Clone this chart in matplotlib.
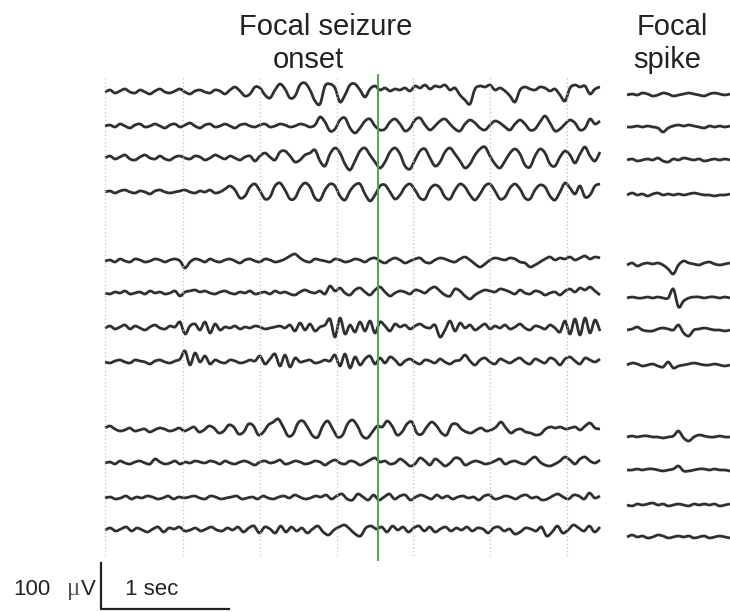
import numpy as np
import matplotlib.pyplot as plt
from matplotlib.path import Path
from matplotlib.patches import PathPatch

plt.rcParams['font.family'] = ['Liberation Sans', 'DejaVu Sans']

# EEG traces, amplitude in pixels (up = positive), one sample every ~5 px
left_traces = [
    # ch1
    [0,2,-1,1,3,0,-1,2,0,-2,1,3,0,-1,1,3,0,-2,1,2,0,-1,2,1,-2,
     2,5,1,-4,-2,5,4,-3,-6,2,8,3,-6,-4,7,9,2,-9,-12,6,8,4,-10,-3,7,8,2,-5,3,6,
     2,4,1,3,2,4,1,6,4,7,3,6,5,7,2,4,-3,-8,-12,3,6,5,7,2,4,1,-4,-10,2,5,
     3,2,5,4,1,3,-3,-9,4,7,5,6,-2,3,5],
    # ch2
    [0,1,-1,2,0,-2,1,2,-1,0,2,0,-2,1,2,-1,1,3,0,-2,1,2,-1,0,2,
     0,-2,1,2,0,-1,1,2,-1,0,2,1,-1,0,2,1,-1,1,
     9,4,-5,-3,6,8,-2,-7,-2,5,7,0,
     -4,-3,4,7,2,-5,-2,6,8,1,-4,0,5,7,2,-3,-5,2,6,3,-2,-4,1,5,3,-1,-4,2,6,2,
     -4,-3,4,10,3,-5,-3,2,6,3,-4,-2,7,2,5],
    # ch3
    [0,2,-1,1,3,-1,-2,1,3,0,-1,2,-1,-2,1,2,0,-1,2,1,-2,0,3,1,-1,2,0,-2,1,2,
     -3,2,5,1,-2,6,7,2,-4,-2,3,5,8,-3,-8,4,10,5,-6,-12,-3,7,10,3,-4,
     -10,-4,6,10,4,-8,-11,-2,7,9,0,-8,-4,6,10,4,-3,-10,-6,3,9,11,2,-6,-10,
     -3,5,9,4,-7,-9,2,9,5,-6,-8,1,7,3,-5,4,11,2,-3,6],
    # ch4
    [0,1,-1,1,2,0,-1,1,0,-2,1,2,0,-1,0,1,2,0,-1,1,0,2,-1,0,
     3,6,2,-6,-4,5,8,1,-7,-5,6,9,2,-7,-6,4,9,5,-6,-8,2,8,6,-4,-8,1,7,8,-2,-9,
     -3,6,7,0,-7,-3,5,8,2,-6,-7,3,7,4,-5,-7,2,8,5,-3,-8,-2,6,8,1,-7,-5,4,8,3,
     -6,-7,2,7,5,-4,-8,0,9,4,-2,6,-5,-3,6,8],
    # ch5
    [0,1,-1,2,0,-1,2,1,-1,0,2,1,-1,1,2,
     0,-7,-1,
     2,1,-1,2,0,-1,1,2,0,-2,1,2,0,-1,2,1,-1,0,
     2,5,7,3,0,
     -1,2,1,0,-1,2,1,-1,0,2,1,
     -1,2,3,0,-2,1,3,1,-2,0,2,3,-1,-2,1,3,2,0,-1,2,4,1,-3,-6,-3,1,3,2,1,3,
     2,-1,-2,-6,-4,-1,2,4,1,3,2,4,1,3,5,2,4,3],
    # ch6
    [0,-1,1,0,2,-1,0,1,-1,2,0,1,-1,0,2,-3,1,2,3,1,2,0,-1,1,2,0,-1,1,0,2,
     -1,0,1,-1,2,0,1,-1,-2,1,3,1,0,2,-1,
     7,2,5,0,-2,3,5,1,-2,3,6,1,-3,0,2,1,-1,3,2,0,4,6,2,-2,-3,4,2,-3,-6,-2,
     1,3,2,1,4,3,1,-1,3,0,-1,2,1,-2,0,1,-2,2,4,1,5,3,6,2,-2],
    # ch7
    [0,2,-1,1,3,-1,2,0,-2,1,3,0,-1,2,1,
     6,-6,2,4,-2,6,-5,4,-2,
     1,0,2,-1,1,0,2,1,-1,0,1,2,
     0,3,-3,5,-2,4,-3,1,3,
     9,-9,10,-6,3,-4,
     6,-3,7,-5,6,2,-3,4,1,
     3,-1,2,4,1,0,3,
     -9,-2,7,-3,5,
     0,3,-2,1,4,-1,2,0,3,-1,1,4,0,-2,2,1,-1,3,0,
     -4,7,-6,9,-7,10,-5,8,-3],
    # ch8
    [0,-1,1,2,0,-1,2,1,0,-2,1,2,0,-1,1,
     3,11,-3,9,0,6,-2,
     2,0,-1,2,1,-1,0,2,1,
     6,-2,3,8,-4,7,-5,4,0,
     1,2,-1,0,2,1,
     7,-4,8,-6,5,-3,
     3,6,-2,4,-1,5,2,-3,1,3,0,-2,2,1,-1,3,0,-2,1,2,7,1,-3,2,4,0,-2,3,1,-1,
     2,4,0,-2,3,1,-1,4,2,-3,3,5,1,-2,4,2,0,3],
    # ch9
    [2,4,1,-1,0,2,-1,0,1,-2,0,2,1,-1,0,
     2,-1,1,3,-2,0,4,2,-3,-1,5,3,-4,-2,6,4,-5,
     -2,5,8,11,3,-6,-4,7,9,2,-6,-7,4,9,1,-7,-5,6,10,4,-6,-8,-2,4,
     3,9,4,-5,-2,6,8,-3,-4,3,8,4,-3,-5,5,6,1,-2,-3,0,2,-1,0,3,8,2,-3,0,1,-2,
     -3,-5,-4,1,3,2,3,1,2,3,0,4,7,2,1],
    # ch10
    [0,1,-1,2,0,-1,1,2,0,-1,4,1,-1,0,2,-1,1,0,2,1,0,2,1,-1,2,0,-1,1,2,0,
     -2,1,2,0,1,3,-1,0,2,1,-1,0,2,1,-2,1,3,0,-1,2,1,-2,0,3,5,1,2,-1,0,4,
     1,-3,-1,5,2,-2,4,1,-3,0,5,4,-2,0,2,1,-1,0,2,4,-1,1,2,0,-1,3,6,1,-2,-3,
     -1,2,6,3,-1,4,6,2,0,3],
    # ch11
    [0,1,-1,0,2,-1,1,0,2,1,-1,0,2,-1,1,0,1,2,0,-1,2,1,-1,0,1,2,-1,0,1,-1,
     2,0,-1,1,2,0,3,1,-1,0,2,1,3,-1,2,4,-1,-2,4,1,-2,3,-2,1,4,-1,2,3,-2,1,
     3,1,-1,3,0,2,-1,1,2,0,1,-2,2,3,-1,0,2,1,-1,2,3,0,1,-2,-1,2,4,1,-1,3,
     2,-1,5,0,2],
    # ch12
    [0,2,-1,1,3,-1,2,0,-2,1,3,-2,2,1,3,-1,0,2,-1,1,3,0,-1,2,0,3,-2,2,4,-3,
     3,1,-3,4,-2,3,-1,2,-3,1,4,-2,-5,0,3,5,1,-4,-6,2,4,1,3,-2,4,0,3,-2,2,4,
     -1,3,-2,1,3,-1,2,0,3,-1,2,1,-3,2,3,-1,1,-4,-2,2,1,-1,3,-6,-2,4,-3,0,5,2,
     -1,4,-2,3],
]
left_rows = [92, 126, 158, 192, 261, 293, 328, 362, 430, 463, 498, 530]

right_traces = [
    [0,1,0,2,1,-1,0,2,1,-1,0,1,2,1,0,-1,1,2,1,0,1],
    [0,0,1,0,1,0,-1,-5,-1,1,2,1,2,1,0,-1,1,0,1,0,1],
    [0,1,-1,0,1,0,2,-1,-2,1,0,2,1,0,1,-1,0,1,0,1,0],
    [0,2,0,1,-1,1,2,0,1,0,1,0,1,2,1,0,0,-1,0,0,1],
    [0,2,-1,1,2,1,2,0,-4,-9,0,4,2,1,0,2,3,1,0,1,2],
    [0,1,0,0,1,0,1,0,0,9,-9,-3,0,1,1,0,1,1,0,1,0],
    [0,1,3,0,-1,-1,1,2,1,0,5,-3,-6,0,1,2,1,0,0,-1,0],
    [0,2,1,-1,0,1,-1,-2,3,-3,-1,0,1,2,1,0,0,1,0,-1,0],
    [0,1,0,1,1,0,0,-1,0,1,6,-1,-4,0,2,1,0,0,1,0,0],
    [0,0,1,0,1,1,0,-1,0,1,4,-1,-1,0,1,1,0,1,0,0,-1],
    [0,-1,1,0,1,2,0,1,-1,0,1,0,-1,1,0,1,0,1,-1,0,1],
    [0,2,0,1,-1,0,2,1,-1,0,1,0,1,-1,0,1,-1,0,1,0,-1],
]
right_rows = [95, 127, 160, 195, 265, 298, 330, 365, 437, 470, 505, 537]

grid_x = [105, 183, 260, 337, 413, 490, 567]
grid_colors = ['#c4c4c4', '#c4c4c4', '#c4c4c4', '#c4c4c4', '#e3a9b8', '#c4c4c4', '#e3a9b8']
onset_x = 378


def smooth_trace(ax, x, y, **kw):
    # Catmull-Rom curve through the samples, drawn as cubic Bezier segments
    pts = np.column_stack([x, y])
    p = np.vstack([pts[0], pts, pts[-1]])
    verts = [pts[0]]
    codes = [Path.MOVETO]
    for i in range(1, len(p) - 2):
        c1 = p[i] + (p[i + 1] - p[i - 1]) / 6.0
        c2 = p[i + 1] - (p[i + 2] - p[i]) / 6.0
        verts += [c1, c2, p[i + 1]]
        codes += [Path.CURVE4] * 3
    ax.add_patch(PathPatch(Path(verts, codes), fill=False, **kw))


fig = plt.figure(figsize=(7.3, 6.12), dpi=100)
ax = fig.add_axes([0, 0, 1, 1])
ax.set_xlim(0, 730)
ax.set_ylim(612, 0)
ax.axis('off')

# grid
for gx, gc in zip(grid_x, grid_colors):
    ax.plot([gx, gx], [78, 556], color=gc, lw=0.9, ls=(0, (1, 2)))
ax.plot([onset_x, onset_x], [75, 560], color='#4fa64f', lw=1.4)

line_col = '#303030'
for vals, yc in zip(left_traces, left_rows):
    v = np.array(vals, dtype=float)
    x = np.linspace(105, 600, len(v))
    smooth_trace(ax, x, yc - v, edgecolor=line_col, lw=2.0, joinstyle='round')

for vals, yc in zip(right_traces, right_rows):
    v = np.array(vals, dtype=float)
    x = np.linspace(627, 730, len(v))
    smooth_trace(ax, x, yc - v, edgecolor=line_col, lw=2.0, joinstyle='round')

# titles
tcol = '#222222'
ax.text(326, 35, 'Focal seizure', fontsize=21, ha='center', va='baseline', color=tcol)
ax.text(308, 68, 'onset', fontsize=21, ha='center', va='baseline', color=tcol)
ax.text(672, 35, 'Focal', fontsize=21, ha='center', va='baseline', color=tcol)
ax.text(667, 68, 'spike', fontsize=21, ha='center', va='baseline', color=tcol)

# scale bar
ax.plot([101, 101, 229], [563, 609, 609], color='#222222', lw=1.6)
ax.text(13, 595, '100', fontsize=16, ha='left', va='baseline', color=tcol)
ax.text(67, 595, '\u03bc', fontsize=18, ha='left', va='baseline', color='#555555',
        family=['Liberation Serif', 'DejaVu Serif'])
ax.text(96, 595, 'V', fontsize=16, ha='right', va='baseline', color=tcol)
ax.text(125, 595, '1 sec', fontsize=16, ha='left', va='baseline', color=tcol)

fig.savefig('out.png', dpi=100)
